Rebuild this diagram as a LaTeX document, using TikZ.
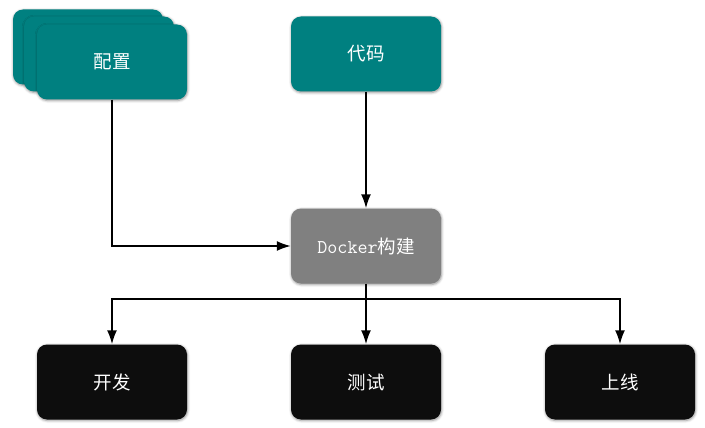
\documentclass[tikz,border=0pt]{standalone}
\usepackage{fontspec}
\newfontfamily\cjk{Noto Sans CJK SC}
\usetikzlibrary{arrows.meta, shadows.blur}
\definecolor{tealbox}{HTML}{008080}
\definecolor{graybox}{HTML}{808080}
\definecolor{darkbox}{HTML}{0D0D0D}
\tikzset{
  box/.style={rounded corners=10pt, minimum width=150pt, minimum height=75pt,
    text=white, font=\cjk\fontsize{18.5}{22}\selectfont,
    blur shadow={shadow xshift=0.5pt, shadow yshift=-1pt, shadow blur radius=2.5pt,
      shadow opacity=45}},
  arr/.style={-{Latex[length=14pt,width=10pt]}, line width=1.8pt},
}
\begin{document}
\begin{tikzpicture}[x=1pt, y=-1pt]
	\useasboundingbox (0,0) rectangle (705,428);
	% config stack
	\node[box, fill=tealbox] (cfgc) at (88,47) {};
	\node[box, fill=tealbox] (cfgb) at (99,54) {};
	\node[box, fill=tealbox] (cfg) at (112,62) {配置};
	\node[box, fill=tealbox] (code) at (366,54) {代码};
	\node[box, fill=graybox] (build) at (366,246) {{\ttfamily\fontsize{19.5}{22}\selectfont Docker}构建};
	\node[box, fill=darkbox] (dev) at (112,382) {开发};
	\node[box, fill=darkbox] (test) at (366,382) {测试};
	\node[box, fill=darkbox] (prod) at (620,382) {上线};
	\coordinate (split) at (366,299);
	% arrows
	\draw[arr] (cfg.south) |- (build.west);
	\draw[arr] (code) -- (build);
	\draw[arr] (build) -- (test);
	\draw[arr] (split) -| (dev.north);
	\draw[arr] (split) -| (prod.north);
\end{tikzpicture}
\end{document}
